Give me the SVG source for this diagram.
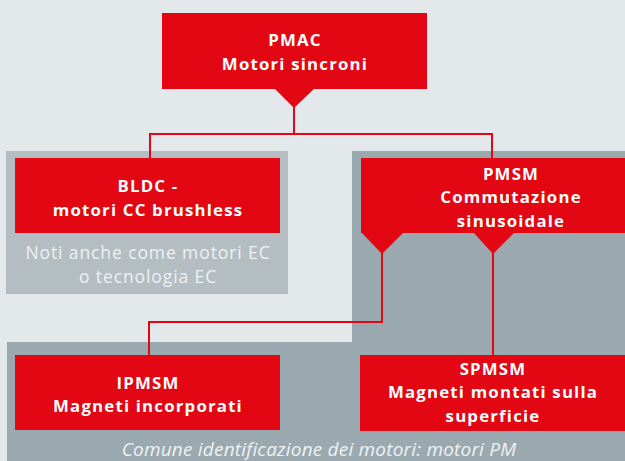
<svg xmlns="http://www.w3.org/2000/svg" width="625" height="461" viewBox="0 0 625 461">
<style>
.bg{fill:#e3e8eb}
.pl{fill:#b3bdc2}
.pd{fill:#9aa9af}
.box{fill:#e30613}
.t{font-family:"Open Sans","Noto Sans",sans-serif;font-weight:bold;font-size:16.8px;letter-spacing:1.2px;fill:#ffffff;text-anchor:middle}
.n{font-family:"Open Sans","Noto Sans",sans-serif;font-size:17.5px;letter-spacing:0.9px;fill:#eef1f3;text-anchor:middle}
.i{font-family:"Open Sans","Noto Sans",sans-serif;font-style:italic;font-size:19px;letter-spacing:0.2px;fill:#eef1f3;text-anchor:middle}
.ln{fill:none;stroke:#e30613;stroke-width:2}
</style>
<rect class="bg" x="0" y="0" width="625" height="461"/>
<g id="panels">
<rect class="pl" x="6" y="151" width="282" height="143"/>
<rect class="pd" x="352" y="151" width="273" height="310"/>
<rect class="pd" x="7" y="342" width="618" height="119"/>
<text class="i" x="319" y="455.5">Comune identificazione dei motori: motori PM</text>
</g>
<g id="connectors">
<polyline class="ln" points="294,100 294,134"/>
<polyline class="ln" points="150,158 150,134 492,134 492,158"/>
<polyline class="ln" points="382,245 382,322 149,322 149,355"/>
<polyline class="ln" points="493,245 493,355"/>
</g>
<g id="pmac">
<rect class="box" x="162" y="13" width="265" height="76"/>
<polygon class="box" points="274,88 315,88 294,108"/>
<text class="t" x="295" y="46">PMAC</text>
<text class="t" x="295" y="70">Motori sincroni</text>
</g>
<g id="bldc">
<rect class="box" x="15" y="158" width="265" height="75"/>
<text class="t" x="148" y="192">BLDC -</text>
<text class="t" x="148" y="216">motori CC brushless</text>
<text class="n" x="148" y="259">Noti anche come motori EC</text>
<text class="n" x="148" y="283">o tecnologia EC</text>
</g>
<g id="pmsm">
<rect class="box" x="361" y="158" width="264" height="75"/>
<polygon class="box" points="361,232 404,232 382,254"/>
<polygon class="box" points="473,232 515,232 493,254"/>
<text class="t" x="511" y="180">PMSM</text>
<text class="t" x="511" y="203">Commutazione</text>
<text class="t" x="511" y="227">sinusoidale</text>
</g>
<g id="ipmsm">
<rect class="box" x="15" y="355" width="265" height="75"/>
<text class="t" x="148" y="389">IPMSM</text>
<text class="t" x="148" y="412">Magneti incorporati</text>
</g>
<g id="spmsm">
<rect class="box" x="360" y="355" width="265" height="76"/>
<text class="t" x="493" y="375">SPMSM</text>
<text class="t" x="493" y="398">Magneti montati sulla</text>
<text class="t" x="493" y="422">superficie</text>
</g>
</svg>
